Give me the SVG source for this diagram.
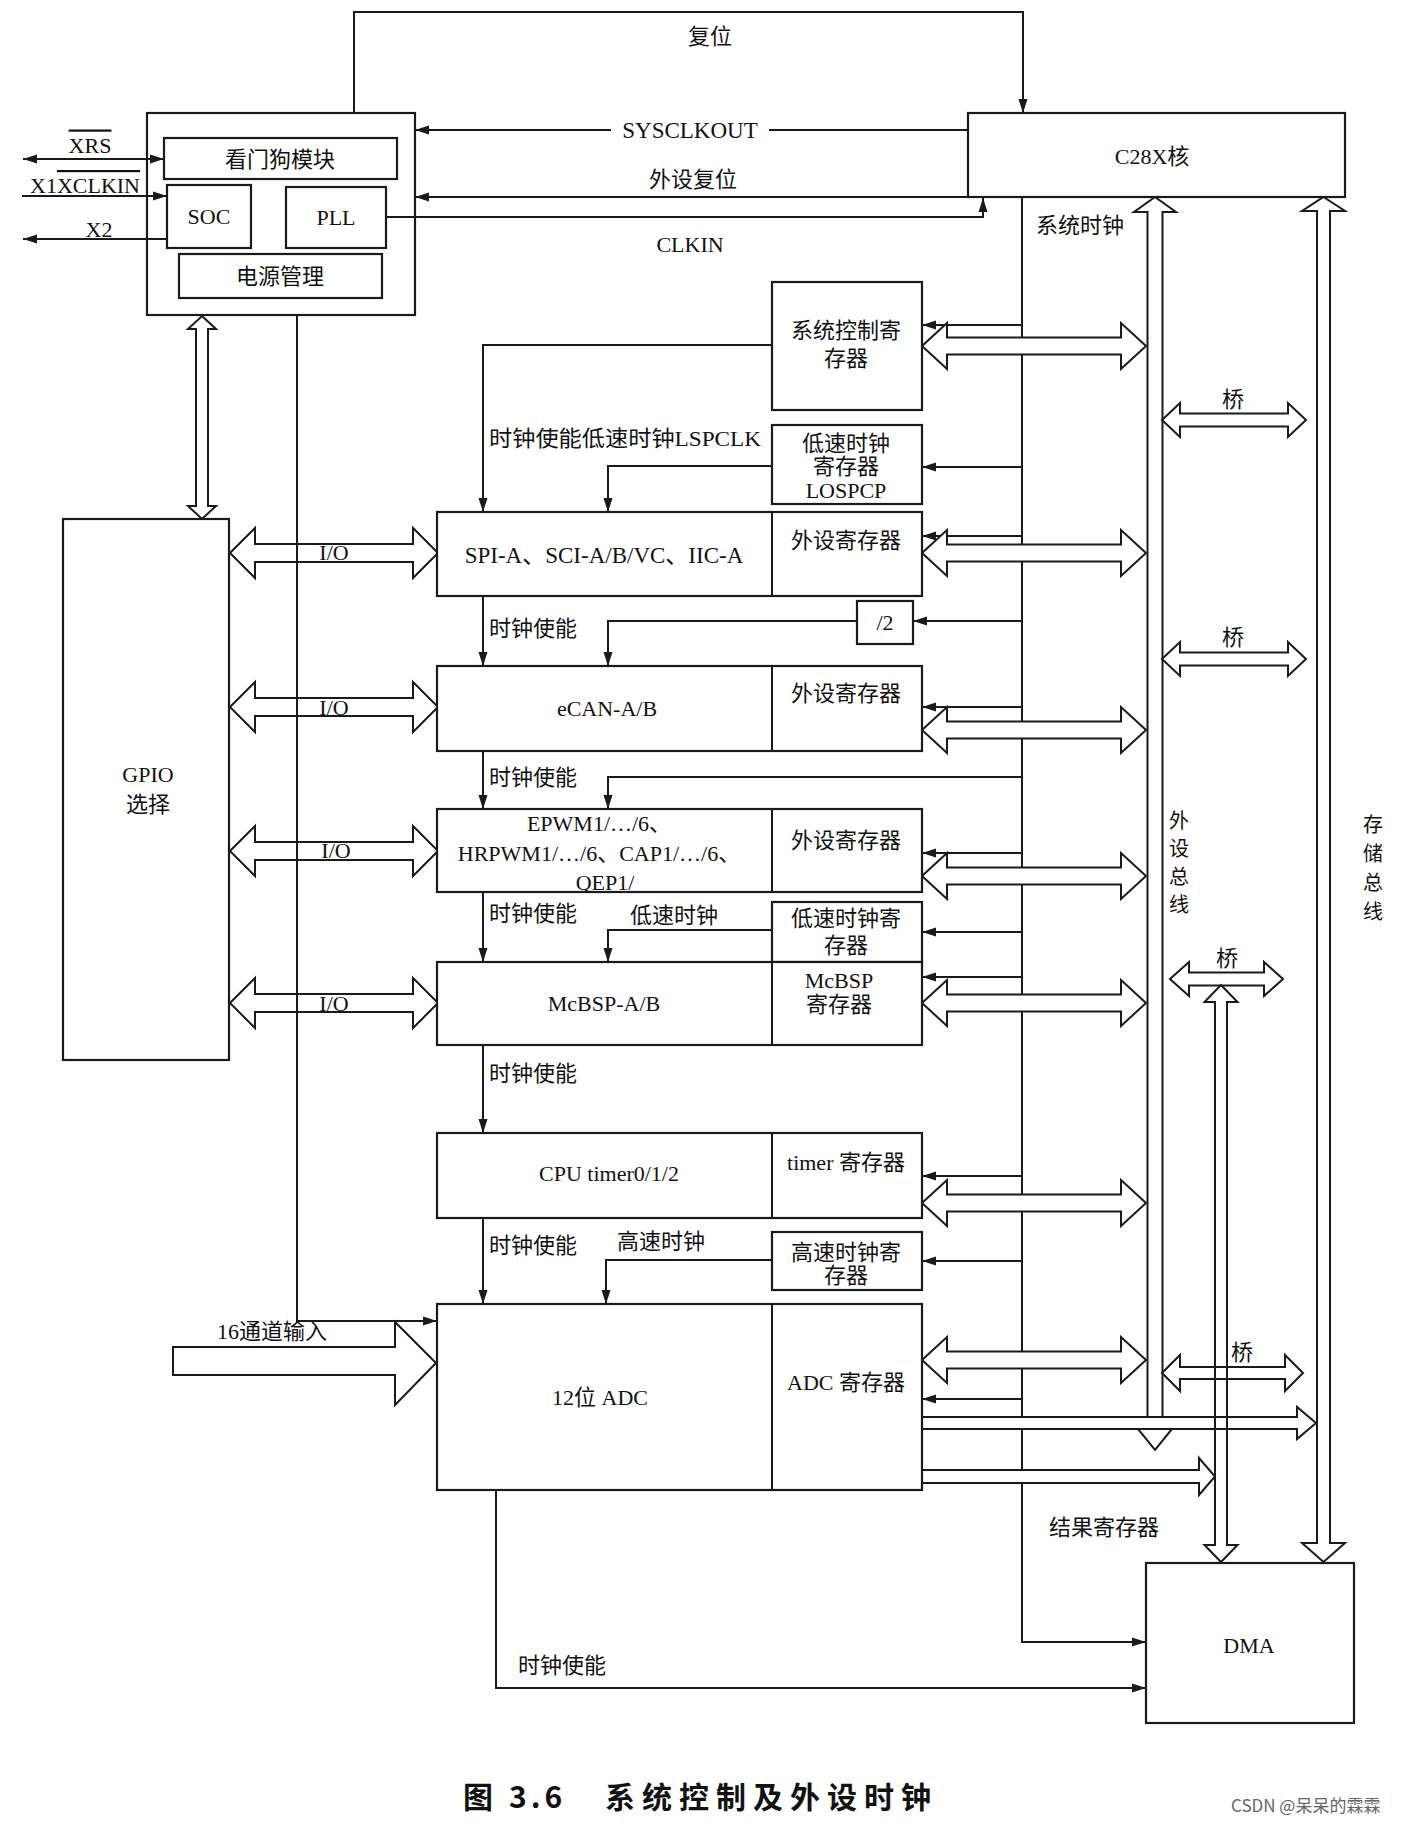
<svg xmlns="http://www.w3.org/2000/svg" xmlns:xlink="http://www.w3.org/1999/xlink" width="1418" height="1825" viewBox="0 0 1418 1825">
<style>
.bx{fill:#fff;stroke:#1a1a1a;stroke-width:2.2}
.ln{fill:none;stroke:#1a1a1a;stroke-width:2}
.ho{fill:#fff;stroke:#1a1a1a;stroke-width:2;stroke-linejoin:miter}
.hn{fill:none;stroke:#1a1a1a;stroke-width:2;stroke-linejoin:miter}
.a{marker-end:url(#ah)}
.t{font-family:"Liberation Serif","Noto Sans CJK SC",serif;font-size:22px;fill:#111;text-anchor:middle;dominant-baseline:central}
.s{text-anchor:start}
.v{font-size:20px}
</style>
<defs>
<marker id="ah" viewBox="0 0 14 10" refX="14" refY="5" markerWidth="14" markerHeight="10" markerUnits="userSpaceOnUse" orient="auto-start-reverse">
<path d="M0,0.5 L14,5 L0,9.5 z" fill="#1a1a1a"/>
</marker>
<polygon id="rb" points="0,0 25,-23 25,-8.5 199,-8.5 199,-23 224,0 199,23 199,8.5 25,8.5 25,23"/>
<polygon id="io" points="0,0 25,-25 25,-9 183,-9 183,-25 208,0 183,25 183,9 25,9 25,25"/>
<polygon id="br" points="0,0 18,-17 18,-6.5 126,-6.5 126,-17 144,0 126,17 126,6.5 18,6.5 18,17"/>
</defs>
<rect width="1418" height="1825" fill="#fff"/>

<g id="connectors">
<path class="ln a" d="M354,113 V12 H1023 V113"/>
<path class="ln" d="M968,130 H769"/>
<path class="ln a" d="M611,130 H415"/>
<path class="ln a" d="M968,197 H415"/>
<path class="ln a" d="M386,217 H983 V198"/>
<path class="ln a" d="M1022,197 V1642 H1146"/>
<path class="ln a" d="M496,1490 V1688 H1146"/>
<path class="ln" d="M23,159 H164" style="marker-start:url(#ah);marker-end:url(#ah)"/>
<path class="ln a" d="M22,196 H167"/>
<path class="ln a" d="M167,239 H23"/>
<path class="ln a" d="M772,345 H483 V512"/>
<path class="ln a" d="M772,466 H608 V512"/>
<path class="ln a" d="M857,621 H608 V666"/>
<path class="ln a" d="M1022,777 H608 V809"/>
<path class="ln a" d="M772,930 H608 V962"/>
<path class="ln a" d="M772,1260 H606 V1304"/>
<path class="ln a" d="M483,596 V666"/>
<path class="ln a" d="M483,751 V809"/>
<path class="ln a" d="M483,892 V962"/>
<path class="ln a" d="M483,1045 V1133"/>
<path class="ln a" d="M483,1218 V1304"/>
<path class="ln a" d="M1022,325 H922"/>
<path class="ln a" d="M1022,467 H922"/>
<path class="ln a" d="M1022,536 H922"/>
<path class="ln a" d="M1022,621 H913"/>
<path class="ln a" d="M1022,707 H922"/>
<path class="ln a" d="M1022,853 H922"/>
<path class="ln a" d="M1022,932 H922"/>
<path class="ln a" d="M1022,977 H922"/>
<path class="ln a" d="M1022,1176 H922"/>
<path class="ln a" d="M1022,1261 H922"/>
<path class="ln a" d="M1022,1399 H922"/>
<use href="#rb" class="ho" x="922" y="346"/>
<use href="#rb" class="ho" x="922" y="553"/>
<use href="#rb" class="ho" x="922" y="730"/>
<use href="#rb" class="ho" x="922" y="876"/>
<use href="#rb" class="ho" x="922" y="1003"/>
<use href="#rb" class="ho" x="922" y="1203"/>
<use href="#rb" class="ho" x="922" y="1360"/>
<use href="#io" class="ho" x="230" y="553"/>
<use href="#io" class="ho" x="230" y="707"/>
<use href="#io" class="ho" x="230" y="851"/>
<use href="#io" class="ho" x="230" y="1003"/>
<polygon class="ho" points="202,316 216,329 208,329 208,506 216,506 202,519 188,506 196,506 196,329 188,329"/>
<path class="ln a" d="M297,315 V1321 H437"/>
<polygon class="ho" points="1155,197 1176,212 1162.5,212 1162.5,1429 1172,1429 1155,1450 1138,1429 1147.5,1429 1147.5,212 1134,212"/>
<polygon class="ho" points="1323.5,197 1345,211 1330,211 1330,1543 1345,1543 1323.5,1562 1302,1543 1317,1543 1317,211 1302,211"/>
<use href="#br" class="ho" x="1162" y="420"/>
<use href="#br" class="ho" x="1162" y="659"/>
<polygon class="ho" points="1170,979 1189,962 1189,972.5 1264,972.5 1264,962 1283,979 1264,996 1264,985.5 1189,985.5 1189,996"/>
<polygon class="ho" points="1162,1373 1180,1355 1180,1367 1285,1367 1285,1355 1303,1373 1285,1391 1285,1379 1180,1379 1180,1391"/>
<polygon class="ho" points="921,1417 1297,1417 1297,1407 1316,1423 1297,1439 1297,1429 921,1429"/>
<polygon class="ho" points="921,1470 1199,1470 1199,1458 1215,1476.5 1199,1495 1199,1483 921,1483"/>
<polygon class="hn" points="1221,985 1237.5,1002 1227,1002 1227,1545 1237.5,1545 1221,1562 1204.5,1545 1215,1545 1215,1002 1204.5,1002"/>
<polygon class="ho" points="173,1347 395,1347 395,1322 436,1363 395,1405 395,1375 173,1375"/>
</g>

<g id="sysblock">
<rect class="bx" x="147" y="113" width="268" height="202" style="fill:none"/>
</g>
<g id="watchdog"><rect class="bx" x="164" y="138" width="233" height="41"/><text class="t" x="280" y="159">看门狗模块</text></g>
<g id="soc"><rect class="bx" x="167" y="185" width="84" height="63"/><text class="t" x="209" y="216">SOC</text></g>
<g id="pll"><rect class="bx" x="286" y="187" width="100" height="61"/><text class="t" x="336" y="217">PLL</text></g>
<g id="power"><rect class="bx" x="179" y="254" width="203" height="44"/><text class="t" x="280" y="276">电源管理</text></g>
<g id="c28x"><rect class="bx" x="968" y="113" width="377" height="84"/><text class="t" x="1152" y="156">C28X核</text></g>
<g id="gpio"><rect class="bx" x="63" y="519" width="166" height="541"/><text class="t" x="148" y="774">GPIO</text><text class="t" x="148" y="804">选择</text></g>
<g id="sysctrlreg"><rect class="bx" x="772" y="282" width="150" height="128"/><text class="t" x="846" y="330">系统控制寄</text><text class="t" x="846" y="358">存器</text></g>
<g id="lospcp"><rect class="bx" x="772" y="425" width="150" height="79"/><text class="t" x="846" y="443">低速时钟</text><text class="t" x="846" y="466">寄存器</text><text class="t" x="846" y="490">LOSPCP</text></g>
<g id="spi"><rect class="bx" x="437" y="512" width="485" height="84"/><line class="ln" x1="772" y1="512" x2="772" y2="596"/><text class="t" x="604" y="555" style="font-size:23px">SPI-A、SCI-A/B/VC、IIC-A</text><text class="t" x="846" y="540">外设寄存器</text></g>
<g id="div2"><rect class="bx" x="857" y="601" width="56" height="43"/><text class="t" x="885" y="622">/2</text></g>
<g id="ecan"><rect class="bx" x="437" y="666" width="485" height="85"/><line class="ln" x1="772" y1="666" x2="772" y2="751"/><text class="t" x="607" y="708">eCAN-A/B</text><text class="t" x="846" y="693">外设寄存器</text></g>
<g id="epwm"><rect class="bx" x="437" y="809" width="485" height="83"/><line class="ln" x1="772" y1="809" x2="772" y2="892"/><text class="t" x="599" y="823">EPWM1/…/6、</text><text class="t" x="599" y="853">HRPWM1/…/6、CAP1/…/6、</text><text class="t" x="605" y="882">QEP1/</text><text class="t" x="846" y="840">外设寄存器</text></g>
<g id="lsreg"><rect class="bx" x="772" y="902" width="150" height="60"/><text class="t" x="846" y="918">低速时钟寄</text><text class="t" x="846" y="945">存器</text></g>
<g id="mcbsp"><rect class="bx" x="437" y="962" width="485" height="83"/><line class="ln" x1="772" y1="962" x2="772" y2="1045"/><text class="t" x="604" y="1003">McBSP-A/B</text><text class="t" x="839" y="980">McBSP</text><text class="t" x="839" y="1004">寄存器</text></g>
<g id="cputimer"><rect class="bx" x="437" y="1133" width="485" height="85"/><line class="ln" x1="772" y1="1133" x2="772" y2="1218"/><text class="t" x="609" y="1173">CPU timer0/1/2</text><text class="t" x="846" y="1162">timer 寄存器</text></g>
<g id="hsreg"><rect class="bx" x="772" y="1232" width="150" height="58"/><text class="t" x="846" y="1252">高速时钟寄</text><text class="t" x="846" y="1275">存器</text></g>
<g id="adc"><rect class="bx" x="437" y="1304" width="485" height="186"/><line class="ln" x1="772" y1="1304" x2="772" y2="1490"/><text class="t" x="600" y="1397">12位 ADC</text><text class="t" x="846" y="1382">ADC 寄存器</text></g>
<g id="dma"><rect class="bx" x="1146" y="1563" width="208" height="160"/><text class="t" x="1249" y="1645">DMA</text></g>

<g id="labels">
<text class="t" x="90" y="145" text-decoration="overline">XRS</text>
<text class="t" x="85" y="185">X1<tspan text-decoration="overline">XCLKIN</tspan></text>
<text class="t" x="99" y="229">X2</text>
<text class="t" x="710" y="36">复位</text>
<text class="t" x="690" y="130" style="font-size:23px">SYSCLKOUT</text>
<text class="t" x="693" y="179">外设复位</text>
<text class="t" x="690" y="244">CLKIN</text>
<text class="t" x="1080" y="225">系统时钟</text>
<text class="t s" x="489" y="438" textLength="272" lengthAdjust="spacingAndGlyphs">时钟使能低速时钟LSPCLK</text>
<text class="t s" x="489" y="628">时钟使能</text>
<text class="t s" x="489" y="777">时钟使能</text>
<text class="t s" x="489" y="913">时钟使能</text>
<text class="t s" x="630" y="915">低速时钟</text>
<text class="t s" x="489" y="1073">时钟使能</text>
<text class="t s" x="489" y="1245">时钟使能</text>
<text class="t s" x="617" y="1241">高速时钟</text>
<text class="t" x="334" y="552">I/O</text>
<text class="t" x="334" y="707">I/O</text>
<text class="t" x="336" y="850">I/O</text>
<text class="t" x="334" y="1003">I/O</text>
<text class="t" x="272" y="1331">16通道输入</text>
<text class="t" x="1233" y="399">桥</text>
<text class="t" x="1233" y="637">桥</text>
<text class="t" x="1227" y="958">桥</text>
<text class="t" x="1242" y="1352">桥</text>
<text class="t v" x="1179" y="821">外</text>
<text class="t v" x="1179" y="849">设</text>
<text class="t v" x="1179" y="877">总</text>
<text class="t v" x="1179" y="905">线</text>
<text class="t v" x="1373" y="825">存</text>
<text class="t v" x="1373" y="854">储</text>
<text class="t v" x="1373" y="883">总</text>
<text class="t v" x="1373" y="912">线</text>
<text class="t" x="1104" y="1527">结果寄存器</text>
<text class="t s" x="518" y="1665">时钟使能</text>
<text x="463" y="1808" style="font-family:'Noto Sans CJK SC',sans-serif;font-size:30px;font-weight:bold;fill:#111">图</text>
<text x="509" y="1808" style="font-family:'Noto Sans CJK SC',sans-serif;font-size:30px;font-weight:bold;fill:#111;letter-spacing:4px">3.6</text>
<text x="605" y="1808" style="font-family:'Noto Sans CJK SC',sans-serif;font-size:30px;font-weight:bold;fill:#111;letter-spacing:7px">系统控制及外设时钟</text>
<text x="1231" y="1812" style="font-family:'Noto Sans CJK SC',sans-serif;font-size:17px;fill:#666">CSDN @呆呆的霖霖</text>
</g>
</svg>
